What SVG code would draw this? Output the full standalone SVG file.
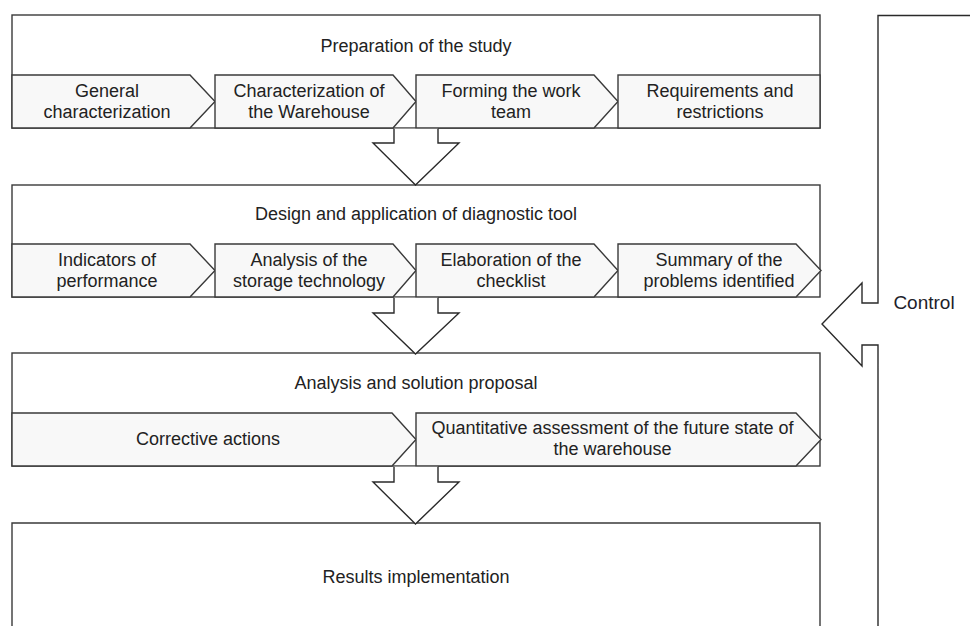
<svg xmlns="http://www.w3.org/2000/svg" width="970" height="626" viewBox="0 0 970 626">
<style>
.box{fill:#ffffff;stroke:#3a3a3a;stroke-width:1.4}
.chev{fill:#f8f8f8;stroke:#3a3a3a;stroke-width:1.4;stroke-linejoin:miter}
.arr{fill:#ffffff;stroke:#2a2a2a;stroke-width:1.4;stroke-linejoin:miter}
text{font-family:"Liberation Sans",Arial,sans-serif;font-size:18px;fill:#222;text-anchor:middle}
</style>
<rect width="970" height="626" fill="#ffffff"/>

<g id="stage1">
<rect class="box" x="12" y="15" width="808" height="113"/>
<text x="416" y="52">Preparation of the study</text>
</g>
<g id="s1c1"><path class="chev" d="M12,75 H190 L215,101.5 L190,128 H12 Z"/><text x="107" y="97">General</text><text x="107" y="118">characterization</text></g>
<g id="s1c2"><path class="chev" d="M215,75 H393 L416,101.5 L393,128 H215 Z"/><text x="309" y="97">Characterization of</text><text x="309" y="118">the Warehouse</text></g>
<g id="s1c3"><path class="chev" d="M416,75 H594 L618,101.5 L594,128 H416 Z"/><text x="511" y="97">Forming the work</text><text x="511" y="118">team</text></g>
<g id="s1c4"><rect class="chev" x="618" y="75" width="202" height="53"/><text x="720" y="97">Requirements and</text><text x="720" y="118">restrictions</text></g>

<g id="stage2">
<rect class="box" x="12" y="185" width="808" height="112"/>
<text x="416" y="220">Design and application of diagnostic tool</text>
</g>
<g id="s2c1"><path class="chev" d="M12,244 H190 L215,270.5 L190,297 H12 Z"/><text x="107" y="266">Indicators of</text><text x="107" y="287">performance</text></g>
<g id="s2c2"><path class="chev" d="M215,244 H393 L416,270.5 L393,297 H215 Z"/><text x="309" y="266">Analysis of the</text><text x="309" y="287">storage technology</text></g>
<g id="s2c3"><path class="chev" d="M416,244 H594 L618,270.5 L594,297 H416 Z"/><text x="511" y="266">Elaboration of the</text><text x="511" y="287">checklist</text></g>
<g id="s2c4"><path class="chev" d="M618,244 H796 L821,270.5 L796,297 H618 Z"/><text x="719" y="266">Summary of the</text><text x="719" y="287">problems identified</text></g>

<g id="stage3">
<rect class="box" x="12" y="353" width="808" height="113"/>
<text x="416" y="389">Analysis and solution proposal</text>
</g>
<g id="s3c1"><path class="chev" d="M12,413 H392 L416,439.5 L392,466 H12 Z"/><text x="208" y="445">Corrective actions</text></g>
<g id="s3c2"><path class="chev" d="M416,413 H796 L821,439.5 L796,466 H416 Z"/><text x="612.5" y="434">Quantitative assessment of the future state of</text><text x="612.5" y="455">the warehouse</text></g>

<g id="stage4">
<path class="box" d="M12,632 V523 H820 V632"/>
<text x="416" y="583">Results implementation</text>
</g>

<g id="connectors">
<path class="arr" d="M394,128.7 V143 H373 L415.5,185 L459,143 H438 V128.7"/>
<path class="arr" d="M394,297.7 V313 H373 L415.5,354 L459,313 H438 V297.7"/>
<path class="arr" d="M394,466.7 V482 H373 L415.5,524 L459,482 H438 V466.7"/>
<path class="arr" fill="none" d="M975,15.5 H878 V303 H862 V283 L822,324 L862,366 V345 H878 V632"/>
<text x="924" y="309" style="font-size:19px;fill:#1e1e2a">Control</text>
</g>
</svg>
